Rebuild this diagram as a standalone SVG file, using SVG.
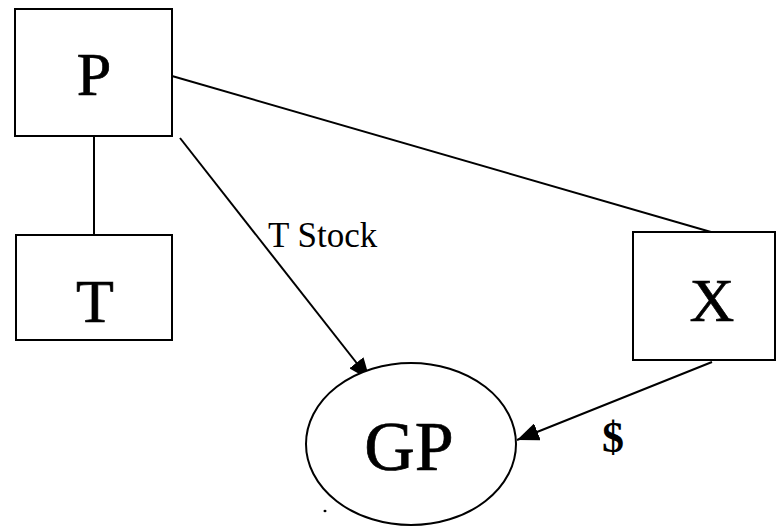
<svg xmlns="http://www.w3.org/2000/svg" width="776" height="529" viewBox="0 0 776 529">
<style>
.box{fill:#fff;stroke:#000;stroke-width:2}
.lbl{font-family:"Liberation Serif","Times New Roman",serif;fill:#000;text-anchor:middle}
.big{stroke:#000;stroke-width:0.7}
.edge{stroke:#000;stroke-width:2;fill:none}
</style>
<defs>
<marker id="arrow" viewBox="0 0 22 18" refX="22" refY="9" markerWidth="22" markerHeight="18" markerUnits="userSpaceOnUse" orient="auto">
<path d="M0,0 L22,9 L0,18 z" fill="#000"/>
</marker>
</defs>
<rect width="776" height="529" fill="#fff"/>
<g id="connectors">
<line class="edge" x1="94" y1="136" x2="94" y2="235"/>
<line class="edge" x1="172" y1="76" x2="711" y2="232"/>
<line class="edge" x1="180" y1="138" x2="370" y2="380" marker-end="url(#arrow)"/>
<line class="edge" x1="712" y1="362" x2="517" y2="440" marker-end="url(#arrow)"/>
<text class="lbl" x="268" y="247" style="text-anchor:start" font-size="35">T Stock</text>
<text class="lbl" x="613" y="452" font-size="44" font-weight="bold">$</text>
</g>
<g id="node-P">
<rect class="box" x="15" y="9" width="157" height="127"/>
<text class="lbl big" x="94" y="95" font-size="62">P</text>
</g>
<g id="node-T">
<rect class="box" x="16" y="235" width="156" height="105"/>
<text class="lbl big" x="95" y="322" font-size="62">T</text>
</g>
<g id="node-X">
<rect class="box" x="633" y="232" width="142" height="128"/>
<text class="lbl big" x="712" y="321" font-size="62">X</text>
</g>
<g id="node-GP">
<ellipse class="box" cx="411" cy="444" rx="105" ry="81"/>
<text class="lbl big" x="409" y="470" font-size="70">GP</text>
</g>
<ellipse cx="325" cy="511" rx="1.5" ry="1.2" fill="#000"/>
</svg>
